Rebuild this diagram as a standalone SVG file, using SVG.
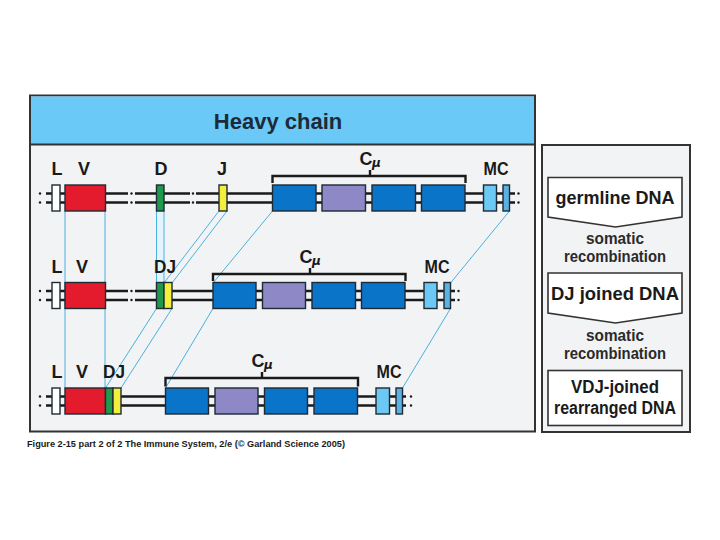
<svg xmlns="http://www.w3.org/2000/svg" width="720" height="540" viewBox="0 0 720 540">
<defs>
<style>
.lbl{font-family:"Liberation Sans",Arial,sans-serif;font-weight:bold;font-size:18px;fill:#1a1a1a;text-anchor:middle}
.mu{font-family:"DejaVu Sans","Liberation Sans",sans-serif;font-style:italic;font-weight:bold;font-size:12px;fill:#1a1a1a}
.dna{stroke:#1a1a1a;stroke-width:2.4;fill:none}
.bx{stroke:#1f2a33;stroke-width:1.4}
.L{fill:#ffffff}
.V{fill:#e41b2c}
.D{fill:#1f9a4c}
.J{fill:#f4ee3c}
.C{fill:#0a74c8}
.P{fill:#8e88c6}
.M1{fill:#6cc8f4}
.M2{fill:#5bb2e2}
.br{stroke:#1a1a1a;stroke-width:2.4;fill:none}
.dot{fill:#1a1a1a}
.cn{stroke:#4cb0de;stroke-width:1;fill:none}
.st{font-family:"Liberation Sans",Arial,sans-serif;font-weight:bold;font-size:18px;fill:#1a1a1a;text-anchor:middle}
.sm{font-family:"Liberation Sans",Arial,sans-serif;font-weight:bold;font-size:16px;fill:#2a2a2a;text-anchor:middle}
.fb{fill:#ffffff;stroke:#333;stroke-width:1.6}
</style>
</defs>
<rect width="720" height="540" fill="#ffffff"/>

<g id="main-panel">
<rect x="30" y="95.5" width="505" height="336" fill="#f2f3f5" stroke="#333" stroke-width="2"/>
<rect x="31" y="96.5" width="503" height="47.5" fill="#6ac9f7"/>
<line x1="30" y1="144.5" x2="535" y2="144.5" stroke="#333" stroke-width="2"/>
<text x="278" y="129" font-family="Liberation Sans, Arial, sans-serif" font-weight="bold" font-size="22" fill="#1c2b3a" text-anchor="middle">Heavy chain</text>
</g>

<g id="connectors">
<rect x="156.5" y="211" width="7.5" height="72" fill="#e3f5fc"/>
<line class="cn" x1="65" y1="211" x2="65" y2="388"/>
<line class="cn" x1="105" y1="211" x2="105" y2="388"/>
<line class="cn" x1="156.5" y1="211" x2="156.5" y2="283"/>
<line class="cn" x1="164" y1="211" x2="164" y2="283"/>
<line class="cn" x1="219" y1="211" x2="164" y2="283"/>
<line class="cn" x1="227" y1="211" x2="172" y2="283"/>
<line class="cn" x1="272.5" y1="211" x2="213" y2="283"/>
<line class="cn" x1="509.5" y1="211" x2="450.5" y2="283"/>
<line class="cn" x1="156.5" y1="308.5" x2="105.5" y2="388"/>
<line class="cn" x1="172" y1="308.5" x2="121" y2="388"/>
<line class="cn" x1="213" y1="308.5" x2="165.5" y2="388"/>
<line class="cn" x1="450.5" y1="308.5" x2="402.5" y2="388"/>
</g>

<g id="germline-row">
<path class="dna" d="M46 193.5H128M135 193.5H190M196 193.5H515M46 202.5H128M135 202.5H190M196 202.5H515"/>
<circle class="dot" cx="40" cy="193.5" r="1.2"/><circle class="dot" cx="40" cy="202.5" r="1.2"/>
<circle class="dot" cx="131.5" cy="193.5" r="1.2"/><circle class="dot" cx="131.5" cy="202.5" r="1.2"/>
<circle class="dot" cx="193" cy="193.5" r="1.2"/><circle class="dot" cx="193" cy="202.5" r="1.2"/>
<circle class="dot" cx="518.5" cy="193.5" r="1.2"/><circle class="dot" cx="518.5" cy="202.5" r="1.2"/>
<rect class="bx L" x="52" y="185" width="8" height="26"/>
<rect class="bx V" x="65" y="185" width="40.5" height="26"/>
<rect class="bx D" x="156.5" y="185" width="7.5" height="26"/>
<rect class="bx J" x="219" y="185" width="8" height="26"/>
<rect class="bx C" x="272.5" y="185" width="43.5" height="26"/>
<rect class="bx P" x="322" y="185" width="43.5" height="26"/>
<rect class="bx C" x="372" y="185" width="43.5" height="26"/>
<rect class="bx C" x="421.5" y="185" width="43.5" height="26"/>
<rect class="bx M1" x="483.5" y="185" width="13" height="26"/>
<rect class="bx M2" x="503" y="185" width="6.5" height="26"/>
<path class="br" d="M272.5 183V176H465.5V183M370 176V170"/>
<text class="lbl" x="57" y="175">L</text>
<text class="lbl" x="84" y="175">V</text>
<text class="lbl" x="161" y="175">D</text>
<text class="lbl" x="222" y="175">J</text>
<text class="lbl" x="366" y="165">C</text><text class="mu" x="372" y="167">μ</text>
<text class="lbl" x="496" y="175" textLength="25" lengthAdjust="spacingAndGlyphs">MC</text>
</g>

<g id="dj-joined-row">
<path class="dna" d="M46 291H128M135 291H455M46 300H128M135 300H455"/>
<circle class="dot" cx="40" cy="291" r="1.2"/><circle class="dot" cx="40" cy="300" r="1.2"/>
<circle class="dot" cx="131.5" cy="291" r="1.2"/><circle class="dot" cx="131.5" cy="300" r="1.2"/>
<circle class="dot" cx="458.5" cy="291" r="1.2"/><circle class="dot" cx="458.5" cy="300" r="1.2"/>
<rect class="bx L" x="52" y="282.5" width="8" height="26"/>
<rect class="bx V" x="65" y="282.5" width="40.5" height="26"/>
<rect class="bx D" x="156.5" y="282.5" width="7.5" height="26"/>
<rect class="bx J" x="164" y="282.5" width="8" height="26"/>
<rect class="bx C" x="213" y="282.5" width="43" height="26"/>
<rect class="bx P" x="262.5" y="282.5" width="43" height="26"/>
<rect class="bx C" x="312" y="282.5" width="43.5" height="26"/>
<rect class="bx C" x="361.5" y="282.5" width="43.5" height="26"/>
<rect class="bx M1" x="424" y="282.5" width="13" height="26"/>
<rect class="bx M2" x="444" y="282.5" width="6.5" height="26"/>
<path class="br" d="M213 281V274H405.5V281M310 274V268"/>
<text class="lbl" x="57" y="273">L</text>
<text class="lbl" x="82" y="273">V</text>
<text class="lbl" x="165" y="273" textLength="22" lengthAdjust="spacingAndGlyphs">DJ</text>
<text class="lbl" x="306" y="263">C</text><text class="mu" x="312" y="265">μ</text>
<text class="lbl" x="437" y="273" textLength="25" lengthAdjust="spacingAndGlyphs">MC</text>
</g>

<g id="vdj-joined-row">
<path class="dna" d="M46 396.5H406M46 405.5H406"/>
<circle class="dot" cx="40" cy="396.5" r="1.2"/><circle class="dot" cx="40" cy="405.5" r="1.2"/>
<circle class="dot" cx="411" cy="396.5" r="1.2"/><circle class="dot" cx="411" cy="405.5" r="1.2"/>
<rect class="bx L" x="52" y="388" width="8" height="26"/>
<rect class="bx V" x="65" y="388" width="40.5" height="26"/>
<rect class="bx D" x="105.5" y="388" width="7.5" height="26"/>
<rect class="bx J" x="113" y="388" width="8" height="26"/>
<rect class="bx C" x="165.5" y="388" width="43" height="26"/>
<rect class="bx P" x="215" y="388" width="43" height="26"/>
<rect class="bx C" x="264.5" y="388" width="43" height="26"/>
<rect class="bx C" x="314" y="388" width="43.5" height="26"/>
<rect class="bx M1" x="376" y="388" width="13.5" height="26"/>
<rect class="bx M2" x="396" y="388" width="6.5" height="26"/>
<path class="br" d="M165.5 386.5V378H358V386.5M262 378V372"/>
<text class="lbl" x="57" y="378">L</text>
<text class="lbl" x="82" y="378">V</text>
<text class="lbl" x="114" y="378" textLength="22" lengthAdjust="spacingAndGlyphs">DJ</text>
<text class="lbl" x="258" y="367">C</text><text class="mu" x="264" y="369">μ</text>
<text class="lbl" x="389" y="378" textLength="25" lengthAdjust="spacingAndGlyphs">MC</text>
</g>

<g id="side-panel">
<rect x="542" y="145" width="148" height="287" fill="#f2f3f5" stroke="#333" stroke-width="2"/>
</g>
<g id="germline-dna">
<path class="fb" d="M548 177.5H682V217L615.5 227L548 217Z"/>
<text class="st" x="615" y="204">germline DNA</text>
</g>
<g id="step1">
<text class="sm" x="615" y="244" textLength="58" lengthAdjust="spacingAndGlyphs">somatic</text>
<text class="sm" x="615" y="262" textLength="102" lengthAdjust="spacingAndGlyphs">recombination</text>
</g>
<g id="dj-joined-dna">
<path class="fb" d="M548 273H682V313L615.5 323L548 313Z"/>
<text class="st" x="615" y="300" textLength="128" lengthAdjust="spacingAndGlyphs">DJ joined DNA</text>
</g>
<g id="step2">
<text class="sm" x="615" y="341" textLength="58" lengthAdjust="spacingAndGlyphs">somatic</text>
<text class="sm" x="615" y="359" textLength="102" lengthAdjust="spacingAndGlyphs">recombination</text>
</g>
<g id="vdj-joined-dna">
<rect class="fb" x="548" y="370.5" width="134" height="55"/>
<text class="st" x="615" y="393" textLength="88" lengthAdjust="spacingAndGlyphs">VDJ-joined</text>
<text class="st" x="615" y="414" textLength="122" lengthAdjust="spacingAndGlyphs">rearranged DNA</text>
</g>

<text x="27" y="447" font-family="Liberation Sans, Arial, sans-serif" font-weight="bold" font-size="9" fill="#1a1a1a" textLength="318" lengthAdjust="spacingAndGlyphs">Figure 2-15 part 2 of 2  The Immune System, 2/e (© Garland Science 2005)</text>
</svg>
